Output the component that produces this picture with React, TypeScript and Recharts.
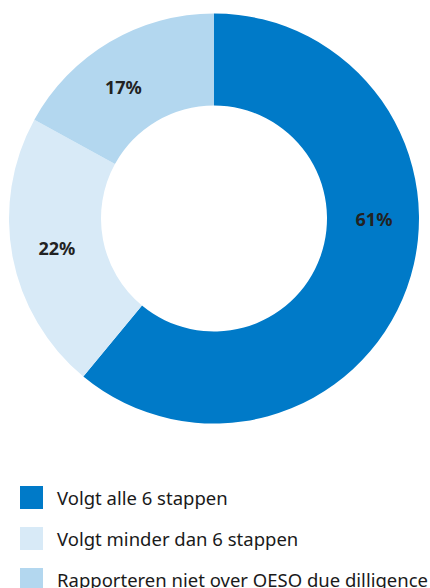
import { PieChart, Pie, Cell, Legend } from "recharts";

const CATEGORIES = [
    "Volgt alle 6 stappen",
    "Volgt minder dan 6 stappen",
    "Rapporteren niet over OESO due dilligence",
];
const SHARES = [61, 22, 17];
const COLORS = ["#007ac8", "#d8eaf7", "#b3d7ef"];

// labels are nudged off their mid-angle like in the original layout
const LABEL_ANGLE: Record<number, number> = { 0: 0, 2: 124.5 };

const data = CATEGORIES.map((name, i) => ({ name, value: SHARES[i] }));

const RADIAN = Math.PI / 180;

function renderLabel(props: any) {
    const { cx, cy, midAngle, innerRadius, outerRadius, index, value } = props;
    const angle = LABEL_ANGLE[index] ?? midAngle;
    const r = (innerRadius + outerRadius) / 2 + 1;
    const x = cx + r * Math.cos(-angle * RADIAN);
    const y = cy + r * Math.sin(-angle * RADIAN);
    return (
        <text
            x={x}
            y={y}
            fill="#222222"
            fontSize={18}
            fontWeight={700}
            fontFamily="'Noto Sans', sans-serif"
            textAnchor="middle"
            dominantBaseline="central"
        >
            {`${value}%`}
        </text>
    );
}

function LegendList() {
    return (
        <ul style={{ listStyle: "none", margin: 0, padding: 0 }}>
            {data.map((d, i) => (
                <li
                    key={d.name}
                    style={{ display: "flex", alignItems: "center", height: 41 }}
                >
                    <span
                        style={{
                            display: "inline-block",
                            width: 23,
                            height: 23,
                            background: COLORS[i],
                            marginLeft: 20,
                            marginRight: 14,
                        }}
                    />
                    <span
                        style={{
                            fontFamily: "'Noto Sans', sans-serif",
                            fontSize: 18.5,
                            color: "#1a1a1a",
                            whiteSpace: "nowrap",
                        }}
                    >
                        {d.name}
                    </span>
                </li>
            ))}
        </ul>
    );
}

export default function App() {
    return (
        <div style={{ position: "absolute", left: 0, top: 0, width: 430, height: 588, background: "#fff" }}>
            <PieChart width={430} height={588} margin={{ top: 0, right: 0, bottom: 0, left: 0 }}>
                <Pie
                    data={data}
                    dataKey="value"
                    nameKey="name"
                    cx={214}
                    cy={218.5}
                    innerRadius={113}
                    outerRadius={205}
                    startAngle={90}
                    endAngle={-270}
                    stroke="none"
                    label={renderLabel}
                    labelLine={false}
                    isAnimationActive={false}
                >
                    {data.map((_, i) => (
                        <Cell key={i} fill={COLORS[i]} />
                    ))}
                </Pie>
                <Legend
                    content={<LegendList />}
                    wrapperStyle={{ position: "absolute", left: 0, top: 477, width: 430 }}
                />
            </PieChart>
        </div>
    );
}
